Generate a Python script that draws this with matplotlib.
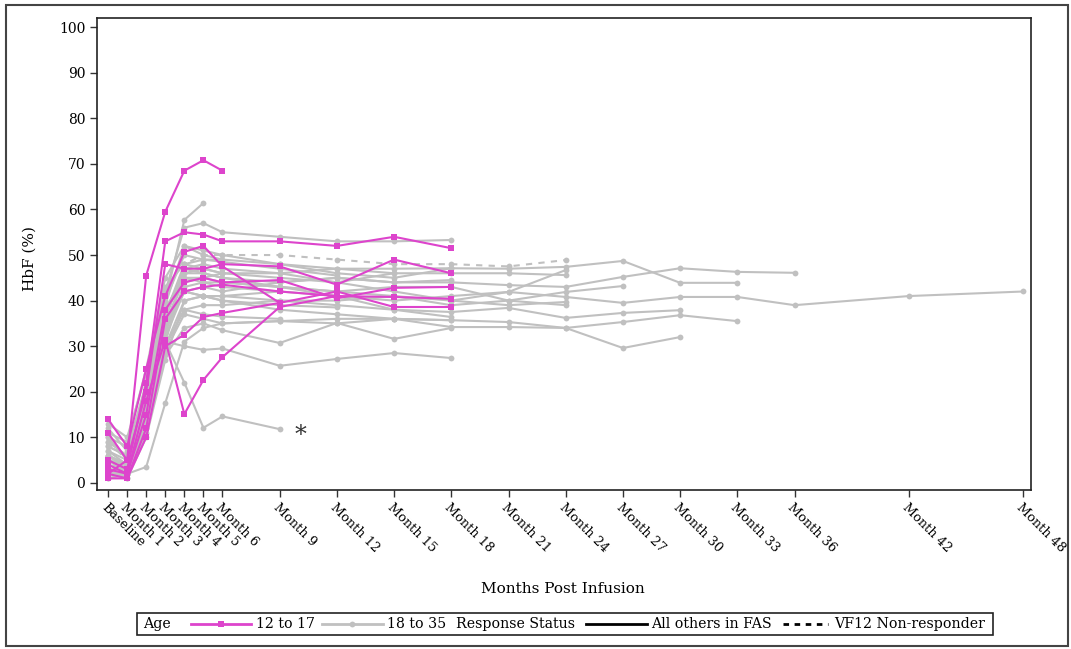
import matplotlib
matplotlib.use("Agg")
import matplotlib.pyplot as plt
from matplotlib.lines import Line2D
from matplotlib.patches import Rectangle

plt.rcParams['font.family'] = ['DejaVu Serif']

# Visit schedule (months post infusion) and tick labels
visits = [0, 1, 2, 3, 4, 5, 6, 9, 12, 15, 18, 21, 24, 27, 30, 33, 36, 42, 48]
visit_labels = ['Baseline', 'Month 1', 'Month 2', 'Month 3', 'Month 4', 'Month 5',
                'Month 6', 'Month 9', 'Month 12', 'Month 15', 'Month 18', 'Month 21',
                'Month 24', 'Month 27', 'Month 30', 'Month 33', 'Month 36',
                'Month 42', 'Month 48']
y_ticks = [0, 10, 20, 30, 40, 50, 60, 70, 80, 90, 100]

# Age 12 to 17 (HbF %, one value per visit until last visit)
p1 = [2, 5, 45.5, 59.5, 68.5, 70.8, 68.5]
p2 = [5, 3, 22, 53, 55, 54.5, 53, 53, 52, 54, 51.5]
p3 = [11, 5, 20, 48, 47, 47, 48, 47.5, 43.5, 49, 46]
p4 = [3, 2, 15, 38, 44, 45, 44, 44.5, 40.5, 42.8, 43]
p5 = [1, 1, 12, 36, 42, 43, 43.5, 42, 41, 40.8, 40.4]
p6 = [14, 8, 25, 41, 50.7, 52, 47.5, 39.5, 42, 38.6, 38.6]
p7 = [4, 2, 18, 31.4, 15.1, 22.6, 27.6, 38.6, 41]
p8 = [2, 1, 10, 30, 32.5, 36.4, 37.3, 39.5]
pink_series = [p1, p2, p3, p4, p5, p6, p7, p8]

# Age 18 to 35
g1 = [6, 4, 18, 35, 45, 44, 43, 42, 41, 40, 41, 41.9, 40.8, 39.5, 40.8, 40.8, 39.0, 41.0, 42.0]
g2 = [8, 6, 20, 38, 46, 46, 45, 44, 45, 44, 44, 43.4, 43.0, 45.2, 47.1, 46.3, 46.1]
g3 = [3, 2, 15, 33, 47, 48, 47, 46, 47, 47, 47.1, 47, 47.4, 48.7, 43.9, 43.9]
g4 = [10, 5, 16, 30, 40, 41, 40, 38, 37, 36, 35.7, 35.3, 34.0, 35.3, 36.8, 35.5]
g5 = [5, 3, 14, 29, 37, 36, 35, 35.5, 36, 36, 34.2, 34.2, 34.0, 29.6, 32.0]
g6 = [7, 4, 17, 34, 42, 41, 41, 40, 39, 38, 37.5, 38.4, 36.2, 37.3, 37.9]
g7 = [2, 2, 13, 31, 44, 45, 44, 43, 42, 43, 43, 40, 41.9, 43.2]
g8 = [9, 5, 18, 36, 48, 50, 50, 50, 49, 48, 48, 47.5, 48.9]
g9 = [12, 7, 22, 40, 50, 49, 49, 48, 47, 46, 46, 46, 45.6]
g10 = [6, 3, 15, 34, 45, 45, 46, 45, 44, 42, 40, 39, 39.7]
g11 = [3, 1, 11, 30, 38, 39, 39, 40, 40, 41, 39, 40, 39.0]
g12 = [1, 2, 14, 33, 43, 44, 44, 43, 42, 41, 40, 41.9, 46.7]
g13 = [8, 6, 21, 42, 56, 57, 55, 54, 53, 53, 53.3]
g14 = [4, 3, 17, 36, 47, 46, 45, 43, 41, 38, 36.4]
g15 = [2, 4, 16, 31, 30, 29.2, 29.5, 25.7, 27.2, 28.5, 27.4]
g16 = [5, 2, 12, 28, 34, 35, 33.5, 30.7, 35.1, 31.6, 34.0]
g17 = [3, 3, 14, 32, 42, 43, 42, 44, 45, 44, 44.5]
g18 = [10, 8, 20, 39, 52, 51, 50, 48, 46, 45, 47.1]
g19 = [6, 4, 16, 34, 46, 47, 46, 46, 44, 46]
g20 = [2, 1, 10, 27, 40, 41, 40, 39, 38.5]
g21 = [9, 6, 19, 37, 48, 49, 48.5, 47, 45.5]
g22 = [5, 4, 18, 31, 22, 12.1, 14.6, 11.8]
g23 = [7, 5, 19, 35, 42, 41, 41, 42]
g24 = [3, 2, 12, 30, 38, 37, 36.5, 36]
g25 = [6, 4, 20, 40, 57.7, 61.4]
g26 = [11, 9, 25, 45, 52, 50, 49]
g27 = [13, 10, 24, 43, 48, 47, 46]
g28 = [1, 2, 3.5, 17.5, 31, 34, 35, 35.5, 35, 36, 35.7]
gray_series = [g1, g2, g3, g4, g5, g6, g7, g8, g9, g10, g11, g12, g13, g14,
               g15, g16, g17, g18, g19, g20, g21, g22, g23, g24, g25, g26, g27, g28]
# VF12 non-responder (dashed)
nonresponder_gray = [g8]

PINK = '#DD44CC'
GRAY = '#C0C0C0'

fig = plt.figure(figsize=(10.71, 6.49), dpi=100)
W, H = 1071, 649
ax = fig.add_axes([97 / W, 1 - 490 / H, (1031 - 97) / W, (490 - 18) / H])

for s in gray_series:
    dashed = any(s is n for n in nonresponder_gray)
    ax.plot(visits[:len(s)], s, color=GRAY, lw=1.5,
            ls=(0, (3, 3)) if dashed else '-', marker='o',
            markersize=4.2, markeredgewidth=0, zorder=2)
for s in pink_series:
    ax.plot(visits[:len(s)], s, color=PINK, lw=1.5, marker='s',
            markersize=4.2, markeredgewidth=0, zorder=3)

ax.text(10.1, 10.3, '*', fontsize=17, ha='center', va='center', color='#333333')

ax.set_xlim(-0.58, 48.4)
ax.set_ylim(-1.55, 102)
ax.set_yticks(y_ticks)
ax.set_yticklabels([str(v) for v in y_ticks], fontsize=10)
ax.set_xticks(visits)
ax.set_xticklabels(visit_labels, fontsize=9.3, rotation=-45, ha='left',
                   va='top', rotation_mode='anchor')
ax.tick_params(axis='both', direction='out', length=5, width=1, color='#333333')
ax.tick_params(axis='x', pad=3)
for sp in ax.spines.values():
    sp.set_linewidth(1.2)
    sp.set_color('#222222')

ax.set_ylabel('HbF (%)', fontsize=11)
ax.yaxis.set_label_coords(-(97 - 37) / (1031 - 97), 0.49)
fig.text(563 / W, 1 - 589 / H, 'Months Post Infusion', fontsize=11,
         ha='center', va='center')

# Legend box drawn in figure pixel coordinates
lax = fig.add_axes([0, 0, 1, 1], zorder=5)
lax.set_xlim(0, W)
lax.set_ylim(H, 0)
lax.axis('off')
lax.add_patch(Rectangle((137, 613), 993 - 137, 22, fill=False, lw=1.2,
                        edgecolor='#222222'))
ly = 624
fs = 10.2
lax.text(143, ly, 'Age', fontsize=fs, va='center', ha='left')
lax.add_line(Line2D([191, 251], [ly, ly], color=PINK, lw=2))
lax.add_line(Line2D([221], [ly], color=PINK, marker='s', markersize=4.2, markeredgewidth=0))
lax.text(256, ly, '12 to 17', fontsize=fs, va='center', ha='left')
lax.add_line(Line2D([322, 383], [ly, ly], color=GRAY, lw=2))
lax.add_line(Line2D([352], [ly], color=GRAY, marker='o', markersize=4.2, markeredgewidth=0))
lax.text(387, ly, '18 to 35', fontsize=fs, va='center', ha='left')
lax.text(456, ly, 'Response Status', fontsize=fs, va='center', ha='left')
lax.add_line(Line2D([586, 647], [ly, ly], color='black', lw=2))
lax.text(651, ly, 'All others in FAS', fontsize=fs, va='center', ha='left')
lax.add_line(Line2D([783, 828], [ly, ly], color='black', lw=2, ls=(0, (2, 2))))
lax.text(834, ly, 'VF12 Non-responder', fontsize=fs, va='center', ha='left')

# Outer frame
lax.add_patch(Rectangle((6, 5), 1068 - 6, 646 - 5, fill=False, lw=1.5,
                        edgecolor='#444444'))

fig.savefig('out.png', dpi=100)
